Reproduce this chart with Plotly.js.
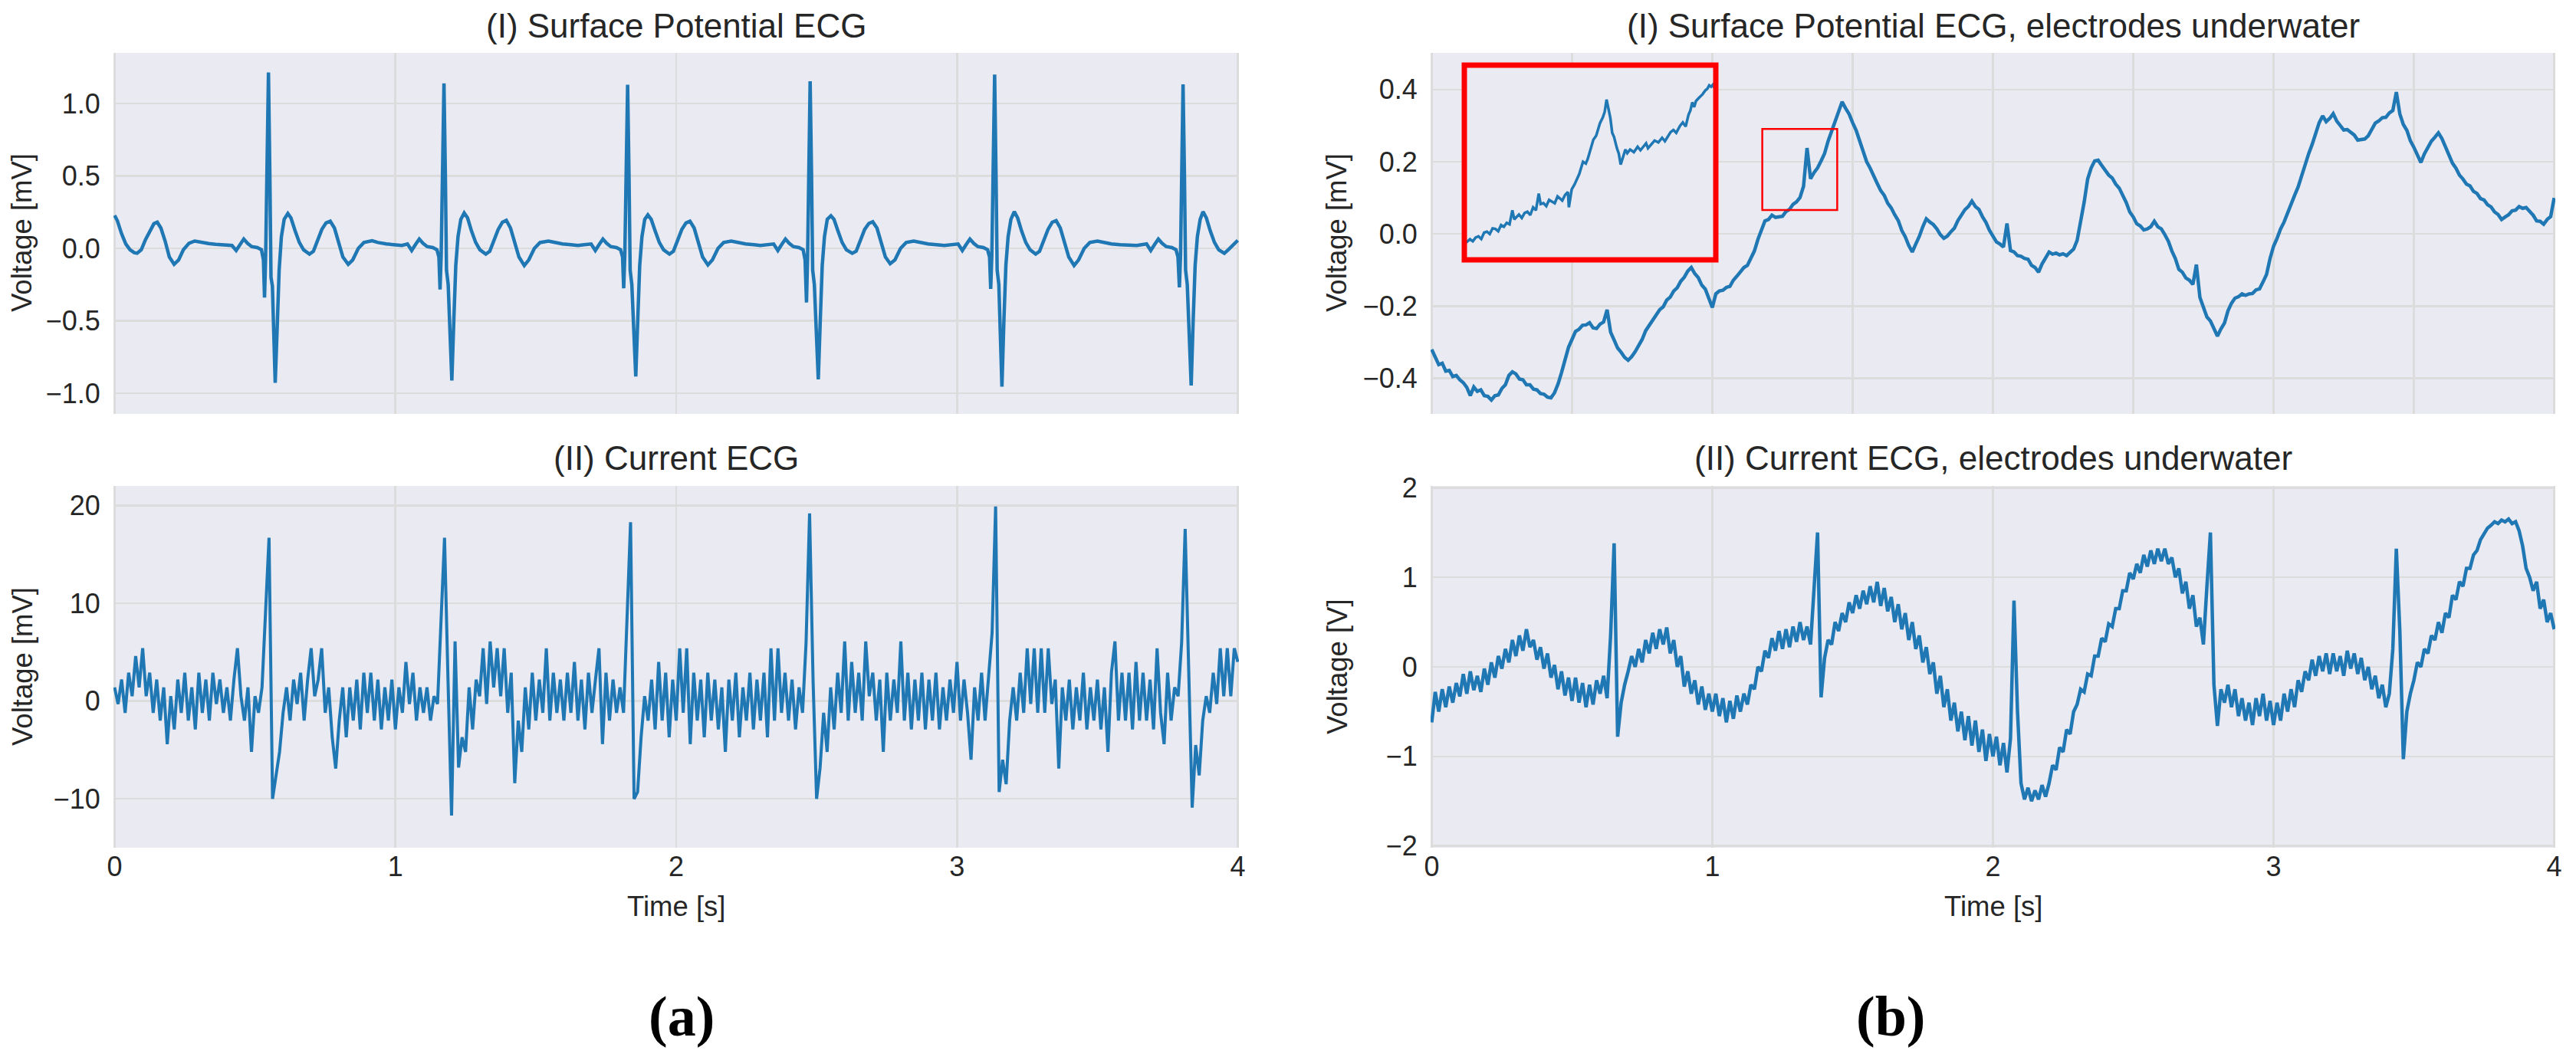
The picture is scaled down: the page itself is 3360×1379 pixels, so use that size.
<!DOCTYPE html>
<html>
<head>
<meta charset="utf-8">
<script src="https://cdn.plot.ly/plotly-3.0.1.min.js"></script>
<style>html,body{margin:0;padding:0;background:#ffffff;}#chart{width:3360px;height:1379px;}</style>
</head>
<body>
<div id="chart"></div>
<script>
// ---------- DATA ----------
// (a)(I) Surface potential ECG [mV], non-uniform time stamps [s]
const tSurface = [
 0,0.01,0.025,0.04,0.055,0.07,0.08,0.095,0.11,0.125,0.14,0.152,0.165,0.18,0.195,0.212,0.228,0.245,0.265,0.285,0.31,0.335,0.36,0.385,0.405,
 0.418,0.433,0.448,0.46,0.473,0.488,0.508,0.523,0.53,0.534,0.538,0.543,0.548,0.553,0.557,0.562,0.572,0.579,0.586,0.594,0.604,0.617,0.628,0.643,0.658,0.673,0.694,0.708,0.723,0.738,0.753,0.768,0.783,0.798,0.813,0.832,0.848,0.868,0.888,0.917,0.938,0.968,0.998,1.023,
 1.043,1.058,1.073,1.085,1.098,1.113,1.133,1.148,1.155,1.159,1.163,1.168,1.173,1.178,1.182,1.188,1.201,1.208,1.215,1.223,1.233,1.245,1.257,1.271,1.286,1.301,1.322,1.336,1.351,1.366,1.381,1.395,1.41,1.425,1.44,1.459,1.475,1.495,1.515,1.545,1.565,1.595,1.625,1.65,
 1.697,1.712,1.727,1.739,1.752,1.767,1.787,1.802,1.809,1.813,1.817,1.822,1.827,1.832,1.836,1.842,1.856,1.863,1.87,1.878,1.888,1.899,1.911,1.925,1.94,1.955,1.976,1.99,2.005,2.02,2.035,2.049,2.064,2.079,2.094,2.113,2.129,2.149,2.169,2.196,2.217,2.247,2.277,2.3,
 2.347,2.362,2.377,2.389,2.402,2.417,2.437,2.452,2.459,2.464,2.468,2.472,2.477,2.482,2.486,2.492,2.506,2.513,2.52,2.528,2.538,2.551,2.562,2.576,2.591,2.606,2.627,2.641,2.656,2.671,2.686,2.7,2.715,2.73,2.745,2.762,2.779,2.799,2.819,2.846,2.867,2.897,2.927,2.955,
 3.004,3.019,3.034,3.046,3.059,3.074,3.094,3.109,3.116,3.12,3.124,3.129,3.134,3.139,3.143,3.149,3.16,3.167,3.174,3.182,3.192,3.204,3.216,3.23,3.245,3.26,3.28,3.294,3.309,3.324,3.339,3.353,3.368,3.383,3.398,3.417,3.433,3.453,3.473,3.5,3.52,3.55,3.58,3.61,3.64,
 3.675,3.69,3.705,3.717,3.73,3.745,3.765,3.78,3.787,3.792,3.796,3.8,3.805,3.81,3.814,3.82,3.834,3.841,3.848,3.856,3.866,3.876,3.888,3.902,3.917,3.932,3.952,3.966,3.98,4.0
];
const vSurface = [
 0.227,0.19,0.1,0.03,-0.01,-0.03,-0.034,-0.01,0.06,0.12,0.17,0.18,0.14,0.05,-0.06,-0.11,-0.08,-0.01,0.035,0.05,0.04,0.033,0.028,0.022,0.02,
 0.02,-0.015,0.03,0.064,0.035,0.012,0.005,-0.01,-0.08,-0.34,-0.05,0.6,1.214,0.5,-0.2,-0.26,-0.928,-0.55,-0.15,0.08,0.2,0.24,0.21,0.12,0.04,-0.01,-0.04,-0.02,0.05,0.13,0.175,0.187,0.14,0.04,-0.06,-0.11,-0.08,0.0,0.04,0.052,0.04,0.03,0.025,0.02,
 0.03,-0.015,0.03,0.064,0.035,0.012,0.005,-0.01,-0.06,-0.284,-0.05,0.6,1.138,0.5,-0.15,-0.25,-0.913,-0.5,-0.12,0.08,0.2,0.244,0.21,0.12,0.04,-0.01,-0.04,-0.02,0.05,0.13,0.18,0.193,0.14,0.04,-0.06,-0.119,-0.08,0.0,0.04,0.05,0.04,0.03,0.025,0.02,
 0.03,-0.015,0.03,0.064,0.035,0.012,0.005,-0.01,-0.06,-0.276,-0.05,0.6,1.129,0.5,-0.15,-0.25,-0.885,-0.5,-0.12,0.08,0.2,0.231,0.2,0.12,0.04,-0.01,-0.04,-0.02,0.05,0.13,0.175,0.187,0.14,0.04,-0.06,-0.115,-0.08,0.0,0.04,0.05,0.04,0.03,0.025,0.02,
 0.03,-0.015,0.03,0.064,0.035,0.012,0.005,-0.01,-0.08,-0.374,-0.05,0.6,1.153,0.5,-0.15,-0.25,-0.904,-0.5,-0.12,0.08,0.2,0.225,0.2,0.12,0.04,-0.01,-0.034,-0.02,0.05,0.13,0.172,0.183,0.14,0.04,-0.06,-0.106,-0.08,0.0,0.04,0.05,0.04,0.03,0.025,0.02,
 0.03,-0.015,0.03,0.064,0.035,0.012,0.005,-0.01,-0.06,-0.28,-0.05,0.6,1.2,0.5,-0.15,-0.25,-0.955,-0.5,-0.12,0.08,0.2,0.253,0.21,0.12,0.04,-0.01,-0.04,-0.02,0.05,0.13,0.18,0.191,0.14,0.04,-0.06,-0.119,-0.08,0.0,0.04,0.05,0.04,0.03,0.025,0.02,0.02,
 0.03,-0.015,0.03,0.064,0.035,0.012,0.005,-0.01,-0.06,-0.27,-0.05,0.6,1.132,0.5,-0.15,-0.25,-0.947,-0.5,-0.12,0.08,0.2,0.253,0.21,0.12,0.04,-0.01,-0.034,-0.01,0.02,0.055
];

// sample times [s] shared by the three sampled panels
const tGrid = [
 0,0.0125,0.025,0.0375,0.05,0.0625,0.075,0.0875,
 0.1,0.1125,0.125,0.1375,0.15,0.1625,0.175,0.1875,
 0.2,0.2125,0.225,0.2375,0.25,0.2625,0.275,0.2875,
 0.3,0.3125,0.325,0.3375,0.35,0.3625,0.375,0.3875,
 0.4,0.4125,0.425,0.4375,0.45,0.4625,0.475,0.4875,
 0.5,0.5125,0.525,0.5375,0.55,0.5625,0.575,0.5875,
 0.6,0.6125,0.625,0.6375,0.65,0.6625,0.675,0.6875,
 0.7,0.7125,0.725,0.7375,0.75,0.7625,0.775,0.7875,
 0.8,0.8125,0.825,0.8375,0.85,0.8625,0.875,0.8875,
 0.9,0.9125,0.925,0.9375,0.95,0.9625,0.975,0.9875,
 1,1.0125,1.025,1.0375,1.05,1.0625,1.075,1.0875,
 1.1,1.1125,1.125,1.1375,1.15,1.1625,1.175,1.1875,
 1.2,1.2125,1.225,1.2375,1.25,1.2625,1.275,1.2875,
 1.3,1.3125,1.325,1.3375,1.35,1.3625,1.375,1.3875,
 1.4,1.4125,1.425,1.4375,1.45,1.4625,1.475,1.4875,
 1.5,1.5125,1.525,1.5375,1.55,1.5625,1.575,1.5875,
 1.6,1.6125,1.625,1.6375,1.65,1.6625,1.675,1.6875,
 1.7,1.7125,1.725,1.7375,1.75,1.7625,1.775,1.7875,
 1.8,1.8125,1.825,1.8375,1.85,1.8625,1.875,1.8875,
 1.9,1.9125,1.925,1.9375,1.95,1.9625,1.975,1.9875,
 2,2.0125,2.025,2.0375,2.05,2.0625,2.075,2.0875,
 2.1,2.1125,2.125,2.1375,2.15,2.1625,2.175,2.1875,
 2.2,2.2125,2.225,2.2375,2.25,2.2625,2.275,2.2875,
 2.3,2.3125,2.325,2.3375,2.35,2.3625,2.375,2.3875,
 2.4,2.4125,2.425,2.4375,2.45,2.4625,2.475,2.4875,
 2.5,2.5125,2.525,2.5375,2.55,2.5625,2.575,2.5875,
 2.6,2.6125,2.625,2.6375,2.65,2.6625,2.675,2.6875,
 2.7,2.7125,2.725,2.7375,2.75,2.7625,2.775,2.7875,
 2.8,2.8125,2.825,2.8375,2.85,2.8625,2.875,2.8875,
 2.9,2.9125,2.925,2.9375,2.95,2.9625,2.975,2.9875,
 3,3.0125,3.025,3.0375,3.05,3.0625,3.075,3.0875,
 3.1,3.1125,3.125,3.1375,3.15,3.1625,3.175,3.1875,
 3.2,3.2125,3.225,3.2375,3.25,3.2625,3.275,3.2875,
 3.3,3.3125,3.325,3.3375,3.35,3.3625,3.375,3.3875,
 3.4,3.4125,3.425,3.4375,3.45,3.4625,3.475,3.4875,
 3.5,3.5125,3.525,3.5375,3.55,3.5625,3.575,3.5875,
 3.6,3.6125,3.625,3.6375,3.65,3.6625,3.675,3.6875,
 3.7,3.7125,3.725,3.7375,3.75,3.7625,3.775,3.7875,
 3.8,3.8125,3.825,3.8375,3.85,3.8625,3.875,3.8875,
 3.9,3.9125,3.925,3.9375,3.95,3.9625,3.975,3.9875,
 4
];

// (a)(II) Current ECG [mV]
const vCurrent = [
 1.4,-0.3,2.2,-1.2,2.9,0.5,4.6,1.4,
 5.4,0.5,2.9,-1.2,2.2,-2.0,1.4,-4.4,
 0.5,-2.9,2.2,-1.2,2.9,-2.0,1.4,-2.9,
 2.9,-1.2,2.2,-2.0,2.9,-0.3,2.2,-1.2,
 1.4,-2.0,2.2,5.4,0.5,-2.0,1.4,-5.2,
 0.5,-1.2,1.4,9.5,16.7,-10.0,-7.6,-5.2,
 -1.2,1.4,-2.0,2.2,-0.3,2.9,-2.0,2.2,
 5.4,0.5,2.2,5.4,-1.2,1.4,-3.7,-6.9,
 -2.0,1.4,-3.7,1.4,-2.0,2.2,-2.9,2.9,
 -1.2,2.9,-2.0,2.2,-2.9,1.4,-2.0,2.2,
 -2.9,1.4,-1.2,4.0,-0.3,2.9,-2.0,1.4,
 -1.2,1.4,-2.0,0.5,-0.3,8.0,16.7,2.0,
 -11.7,6.1,-6.8,-3.7,-5.2,1.4,-2.9,2.2,
 0.5,5.4,-0.3,6.1,1.4,5.4,0.5,5.4,
 -1.2,2.9,-8.4,-2.0,-5.2,1.4,-2.9,2.9,
 -2.0,2.2,-1.2,5.4,-2.0,2.9,-1.2,2.2,
 -2.0,2.9,-1.2,4.0,-2.0,2.2,-2.9,2.9,
 -1.2,2.2,5.4,-4.4,2.9,-2.0,2.2,-1.2,
 1.4,-1.2,8.0,18.3,-10.0,-9.3,-3.7,0.5,
 -2.0,2.2,-2.9,4.0,-2.0,2.9,-3.7,2.2,
 -2.0,5.4,-1.2,5.4,-4.4,2.9,-2.0,2.2,
 -3.7,2.9,-2.0,2.2,-2.9,1.4,-5.2,2.2,
 -2.0,2.9,-3.7,1.4,-2.0,2.9,-2.9,2.2,
 -2.0,2.9,-3.7,5.4,-2.0,5.4,-1.2,2.9,
 -2.0,2.2,-2.9,1.4,-1.2,6.0,19.2,2.0,
 -10.0,-6.8,-1.2,-5.2,1.4,-2.9,2.9,-1.2,
 6.1,-2.0,4.0,-1.2,2.9,-2.0,6.1,0.5,
 2.9,-2.0,2.2,-5.2,2.9,-2.0,2.2,-1.2,
 6.1,-2.0,2.9,-2.9,2.2,-2.0,2.9,-2.9,
 2.2,-2.0,2.9,-2.9,1.4,-2.0,2.2,-1.2,
 4.0,-2.0,2.2,-1.2,-6.0,1.4,-2.0,2.9,
 -2.0,2.2,7.0,19.9,-9.3,-6.0,-8.5,-2.0,
 1.4,-2.0,2.9,-1.2,5.4,-0.3,5.4,-1.2,
 5.4,-1.2,5.4,-0.3,2.2,-6.9,1.4,-2.0,
 2.2,-2.9,1.4,-2.0,2.9,-2.9,1.4,-2.0,
 2.2,-2.9,1.4,-5.2,2.9,6.1,-2.0,2.9,
 -2.0,2.9,-2.9,4.0,-2.0,2.9,-2.0,2.2,
 -2.9,5.4,-1.2,-4.4,2.9,-2.0,1.4,0.5,
 6.0,17.6,2.0,-10.9,-4.5,-7.6,-2.0,0.5,
 -1.2,2.9,-0.3,5.4,0.5,5.4,0.5,5.4,
 4.0
];

// (b)(I) Surface potential ECG, electrodes underwater [mV]
const vSurfaceWater = [
 -0.32,-0.342,-0.362,-0.358,-0.38,-0.378,-0.395,-0.392,
 -0.404,-0.412,-0.425,-0.448,-0.424,-0.436,-0.432,-0.448,
 -0.45,-0.46,-0.448,-0.446,-0.428,-0.418,-0.392,-0.382,
 -0.388,-0.402,-0.404,-0.418,-0.418,-0.43,-0.432,-0.442,
 -0.444,-0.452,-0.454,-0.44,-0.416,-0.384,-0.352,-0.314,
 -0.292,-0.27,-0.264,-0.253,-0.252,-0.246,-0.26,-0.262,
 -0.25,-0.244,-0.21,-0.272,-0.294,-0.316,-0.328,-0.342,
 -0.35,-0.34,-0.326,-0.308,-0.292,-0.268,-0.254,-0.236,
 -0.226,-0.21,-0.202,-0.183,-0.175,-0.158,-0.149,-0.131,
 -0.12,-0.103,-0.093,-0.11,-0.121,-0.142,-0.153,-0.178,
 -0.204,-0.166,-0.158,-0.156,-0.148,-0.145,-0.128,-0.117,
 -0.105,-0.093,-0.087,-0.068,-0.047,-0.015,0.008,0.036,
 0.04,0.052,0.046,0.048,0.049,0.062,0.068,0.082,
 0.089,0.101,0.132,0.238,0.153,0.17,0.183,0.202,
 0.223,0.257,0.283,0.314,0.338,0.366,0.348,0.332,
 0.308,0.287,0.258,0.232,0.2,0.182,0.158,0.14,
 0.12,0.107,0.085,0.072,0.053,0.037,0.01,-0.008,
 -0.032,-0.05,-0.028,-0.007,0.02,0.042,0.033,0.026,
 0.014,-0.002,-0.012,-0.006,0.006,0.016,0.037,0.051,
 0.067,0.076,0.091,0.076,0.068,0.048,0.032,0.01,
 -0.004,-0.022,-0.028,-0.036,0.029,-0.046,-0.05,-0.06,
 -0.062,-0.068,-0.07,-0.087,-0.093,-0.106,-0.083,-0.064,
 -0.05,-0.056,-0.053,-0.058,-0.055,-0.06,-0.05,-0.042,
 -0.018,0.032,0.088,0.152,0.183,0.202,0.204,0.19,
 0.178,0.163,0.155,0.138,0.127,0.108,0.087,0.061,
 0.047,0.028,0.022,0.011,0.014,0.02,0.035,0.02,
 0.014,-0.002,-0.02,-0.047,-0.068,-0.098,-0.106,-0.122,
 -0.128,-0.14,-0.085,-0.176,-0.203,-0.23,-0.241,-0.262,
 -0.283,-0.263,-0.247,-0.213,-0.192,-0.178,-0.174,-0.166,
 -0.17,-0.166,-0.165,-0.155,-0.152,-0.133,-0.112,-0.068,
 -0.034,-0.012,0.014,0.033,0.06,0.08,0.107,0.13,
 0.162,0.188,0.222,0.248,0.282,0.308,0.327,0.311,
 0.32,0.333,0.313,0.3,0.288,0.289,0.281,0.274,
 0.26,0.262,0.263,0.272,0.288,0.307,0.313,0.322,
 0.323,0.335,0.342,0.393,0.332,0.303,0.287,0.258,
 0.24,0.218,0.198,0.222,0.238,0.257,0.268,0.28,
 0.264,0.243,0.222,0.196,0.182,0.163,0.152,0.138,
 0.133,0.118,0.112,0.098,0.094,0.081,0.075,0.061,
 0.054,0.04,0.047,0.053,0.064,0.066,0.076,0.071,
 0.073,0.063,0.052,0.036,0.035,0.027,0.04,0.048,
 0.1
];

// (b)(II) Current ECG, electrodes underwater [V]
const vCurrentWater = [
 -0.62,-0.28,-0.5,-0.25,-0.45,-0.22,-0.4,-0.18,
 -0.33,-0.08,-0.3,-0.05,-0.26,-0.1,-0.28,-0.02,
 -0.2,0.05,-0.12,0.12,-0.02,0.2,0.05,0.3,
 0.12,0.35,0.18,0.42,0.22,0.3,0.08,0.22,
 -0.02,0.15,-0.12,0.02,-0.25,-0.05,-0.32,-0.12,
 -0.38,-0.12,-0.4,-0.18,-0.45,-0.2,-0.42,-0.15,
 -0.3,-0.1,-0.35,0.35,1.38,-0.78,-0.4,-0.2,
 -0.05,0.12,0.0,0.2,0.05,0.3,0.15,0.38,
 0.2,0.42,0.25,0.44,0.15,0.3,0.0,0.12,
 -0.22,-0.05,-0.3,-0.15,-0.42,-0.22,-0.48,-0.3,
 -0.5,-0.3,-0.55,-0.35,-0.62,-0.38,-0.58,-0.32,
 -0.5,-0.3,-0.42,-0.2,-0.25,0.0,-0.05,0.18,
 0.1,0.32,0.18,0.4,0.2,0.42,0.22,0.45,
 0.28,0.5,0.3,0.45,0.25,0.9,1.5,-0.34,
 0.1,0.3,0.25,0.5,0.4,0.6,0.5,0.72,
 0.6,0.8,0.65,0.85,0.7,0.9,0.72,0.95,
 0.68,0.88,0.62,0.78,0.5,0.7,0.42,0.6,
 0.3,0.5,0.2,0.35,0.05,0.22,-0.08,0.05,
 -0.3,-0.1,-0.45,-0.25,-0.6,-0.4,-0.72,-0.5,
 -0.82,-0.55,-0.88,-0.6,-0.95,-0.7,-1.05,-0.75,
 -1.0,-0.78,-1.1,-0.85,-1.18,-0.8,0.74,-0.5,
 -1.3,-1.48,-1.35,-1.5,-1.38,-1.48,-1.32,-1.45,
 -1.3,-1.1,-1.15,-0.9,-0.95,-0.7,-0.75,-0.5,
 -0.42,-0.25,-0.28,-0.08,-0.1,0.12,0.12,0.32,
 0.28,0.48,0.45,0.65,0.65,0.85,0.85,1.05,
 0.98,1.15,1.05,1.25,1.12,1.3,1.15,1.32,
 1.18,1.32,1.15,1.22,1.0,1.1,0.82,0.95,
 0.65,0.8,0.45,0.55,0.25,0.9,1.5,-0.2,
 -0.66,-0.25,-0.4,-0.2,-0.45,-0.25,-0.55,-0.35,
 -0.6,-0.4,-0.65,-0.35,-0.55,-0.3,-0.6,-0.38,
 -0.65,-0.4,-0.6,-0.3,-0.5,-0.25,-0.45,-0.15,
 -0.28,-0.05,-0.15,0.08,-0.1,0.12,-0.05,0.15,
 -0.08,0.15,-0.05,0.12,-0.1,0.18,-0.02,0.15,
 -0.08,0.1,-0.15,0.0,-0.25,-0.1,-0.35,-0.2,
 -0.45,-0.3,0.2,1.32,0.4,-1.03,-0.5,-0.3,
 -0.15,0.05,0.0,0.2,0.15,0.35,0.3,0.5,
 0.38,0.6,0.55,0.8,0.75,0.95,0.9,1.1,
 1.1,1.25,1.3,1.42,1.48,1.55,1.58,1.62,
 1.6,1.64,1.62,1.65,1.6,1.62,1.52,1.35,
 1.1,1.0,0.85,0.95,0.65,0.75,0.5,0.6,
 0.42
];

// magnified detail shown in the inset of (b)(I)
const tInset = [
 1.178,1.181,1.184,1.187,1.19,1.193,1.196,1.199,1.202,1.205,1.208,1.211,1.214,1.217,1.22,1.223,1.226,1.229,1.231,1.233,
 1.236,1.239,1.242,1.245,1.248,1.251,1.254,1.257,1.259,1.262,1.265,1.268,1.271,1.274,1.277,1.279,1.282,1.285,1.288,1.289,
 1.292,1.295,1.297,1.3,1.304,1.307,1.309,1.312,1.315,1.318,1.322,1.325,1.327,1.329,1.331,1.333,1.335,1.337,1.34,1.342,
 1.344,1.347,1.349,1.351,1.354,1.358,1.362,1.365,1.367,1.371,1.373,1.376,1.38,1.384,1.388,1.391,1.393,1.397,1.4,1.403,
 1.407,1.41,1.413,1.416,1.418,1.42,1.422,1.424,1.427,1.431,1.434,1.436,1.438,1.44,1.442,1.444
];
const vInset = [
 0.0317,0.034,0.0376,0.0345,0.04,0.0418,0.038,0.047,0.0485,0.045,0.053,0.0524,0.049,0.058,0.0554,0.061,0.059,0.0791,0.066,0.0694,
 0.073,0.068,0.0752,0.077,0.072,0.0833,0.079,0.1029,0.088,0.0892,0.085,0.094,0.0911,0.089,0.099,0.097,0.093,0.101,0.1051,0.0833,
 0.109,0.116,0.1227,0.131,0.1486,0.146,0.1525,0.165,0.1801,0.186,0.2039,0.212,0.2198,0.2376,0.224,0.2117,0.19,0.184,0.168,0.1603,
 0.1444,0.158,0.1662,0.161,0.166,0.1623,0.17,0.165,0.1681,0.175,0.168,0.1723,0.179,0.1762,0.183,0.178,0.1821,0.191,0.1941,0.19,
 0.2,0.205,0.199,0.2159,0.222,0.2337,0.227,0.2357,0.24,0.2454,0.251,0.2532,0.258,0.256,0.259,0.2532
];

const panelTitles = [
 "(I) Surface Potential ECG",
 "(II) Current ECG",
 "(I) Surface Potential ECG, electrodes underwater",
 "(II) Current ECG, electrodes underwater"
];
const yTitles = ["Voltage [mV]", "Voltage [mV]", "Voltage [mV]", "Voltage [V]"];
const xTitle = "Time [s]";
const subLabels = ["(a)", "(b)"];

// ---------- STYLE / LAYOUT ----------
const W = 3360, H = 1379;
const BLUE = '#1f77b4';
const GRID = '#DCDCDC';
const TXT = '#262626';
const SANS = 'Liberation Sans, Arial, Helvetica, sans-serif';
const SERIF = 'Liberation Serif, Times New Roman, serif';
const TICK = 36, TITLE = 44, LABEL = 36.5;
const px = v => v / W;
const py = v => 1 - v / H;

const xL = [px(148), px(1616)], xR = [px(1866), px(3333)];
const yT = [py(540), py(69)],  yB = [py(1106), py(634)];

function xa(domain, anchor, dtick, labels) {
  return {domain: domain, anchor: anchor, range: [-0.004, 4.004], tick0: 0, dtick: dtick,
    showticklabels: labels, ticks: '',
    tickfont: {family: SANS, size: TICK, color: TXT},
    showgrid: true, gridcolor: GRID, gridwidth: 2.5, zeroline: false, showline: false, fixedrange: true};
}
function ya(domain, anchor, range, dtick, fmt) {
  return {domain: domain, anchor: anchor, range: range, tick0: 0, dtick: dtick, tickformat: fmt,
    ticks: 'outside', ticklen: 9, tickcolor: 'rgba(0,0,0,0)',
    tickfont: {family: SANS, size: TICK, color: TXT},
    showgrid: true, gridcolor: GRID, gridwidth: 2.5, zeroline: false, showline: false, fixedrange: true};
}

const line = {color: BLUE, width: 4.5};
const traces = [
  {x: tSurface, y: vSurface, xaxis: 'x', yaxis: 'y', type: 'scatter', mode: 'lines', line: line, hoverinfo: 'skip'},
  {x: tGrid, y: vSurfaceWater, xaxis: 'x2', yaxis: 'y2', type: 'scatter', mode: 'lines', line: line, hoverinfo: 'skip'},
  {x: tGrid, y: vCurrent, xaxis: 'x3', yaxis: 'y3', type: 'scatter', mode: 'lines', line: {color: BLUE, width: 4}, hoverinfo: 'skip'},
  {x: tGrid, y: vCurrentWater, xaxis: 'x4', yaxis: 'y4', type: 'scatter', mode: 'lines', line: line, hoverinfo: 'skip'},
  {x: tInset, y: vInset, xaxis: 'x5', yaxis: 'y5', type: 'scatter', mode: 'lines', line: {color: BLUE, width: 3.5}, hoverinfo: 'skip'}
];

const insetBox = {x0: 1910, x1: 2238, y0: 85, y1: 339};

const ann = [];
function addText(text, x, y, size, opts) {
  ann.push(Object.assign({text: text, x: x, y: y, xref: 'paper', yref: 'paper', showarrow: false,
    xanchor: 'center', yanchor: 'middle', font: {family: SANS, size: size, color: TXT}}, opts || {}));
}
addText(panelTitles[0], px(882), py(33), TITLE);
addText(panelTitles[1], px(882), py(597), TITLE);
addText(panelTitles[2], px(2600), py(33), TITLE);
addText(panelTitles[3], px(2600), py(597), TITLE);
addText(yTitles[0], px(29), py(304), LABEL, {textangle: -90});
addText(yTitles[1], px(29), py(870), LABEL, {textangle: -90});
addText(yTitles[2], px(1744), py(304), LABEL, {textangle: -90});
addText(yTitles[3], px(1744), py(870), LABEL, {textangle: -90});
addText(xTitle, px(882), py(1182), LABEL);
addText(xTitle, px(2600), py(1182), LABEL);
addText('<b>' + subLabels[0] + '</b>', px(889), py(1326), 74, {font: {family: SERIF, size: 74, color: '#000000'}});
addText('<b>' + subLabels[1] + '</b>', px(2466), py(1326), 74, {font: {family: SERIF, size: 74, color: '#000000'}});

const layout = {
  width: W, height: H, margin: {l: 0, r: 0, t: 0, b: 0, pad: 0},
  paper_bgcolor: '#ffffff', plot_bgcolor: '#EAEAF2', showlegend: false,
  font: {family: SANS, color: TXT, size: TICK},
  xaxis: xa(xL, 'y', 1, false),
  yaxis: ya(yT, 'x', [-1.143, 1.349], 0.5, '.1f'),
  xaxis2: xa(xR, 'y2', 0.5, false),
  yaxis2: ya(yT, 'x2', [-0.4985, 0.5015], 0.2, '.1f'),
  xaxis3: xa(xL, 'y3', 1, true),
  yaxis3: ya(yB, 'x3', [-15.0, 22.0], 10, 'd'),
  xaxis4: xa(xR, 'y4', 1, true),
  yaxis4: ya(yB, 'x4', [-2.02, 2.02], 1, 'd'),
  xaxis5: {domain: [px(insetBox.x0), px(insetBox.x1)], anchor: 'y5', range: [1.178, 1.445],
           showgrid: false, zeroline: false, showticklabels: false, ticks: '', showline: false, fixedrange: true},
  yaxis5: {domain: [py(insetBox.y1), py(insetBox.y0)], anchor: 'x5', range: [0.008, 0.287],
           showgrid: false, zeroline: false, showticklabels: false, ticks: '', showline: false, fixedrange: true},
  shapes: [
    {type: 'rect', xref: 'paper', yref: 'paper', x0: px(insetBox.x0), x1: px(insetBox.x1),
     y0: py(insetBox.y1), y1: py(insetBox.y0), line: {color: '#FF0000', width: 7}, fillcolor: 'rgba(0,0,0,0)', layer: 'above'},
    {type: 'rect', xref: 'x2', yref: 'y2', x0: 1.178, x1: 1.445, y0: 0.066, y1: 0.291,
     line: {color: '#FF0000', width: 2.5}, fillcolor: 'rgba(0,0,0,0)', layer: 'above'}
  ],
  annotations: ann
};

Plotly.newPlot('chart', traces, layout, {displayModeBar: false, staticPlot: true});
</script>
</body>
</html>
